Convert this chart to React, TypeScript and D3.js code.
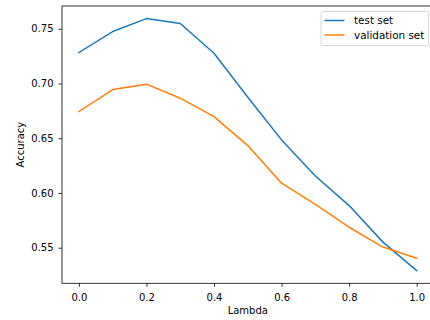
import { useEffect, useRef } from 'react';
import * as d3 from 'd3';

const lambdas = [0.0, 0.1, 0.2, 0.3, 0.4, 0.5, 0.6, 0.7, 0.8, 0.9, 1.0];
const testAcc = [0.7283, 0.7475, 0.7593, 0.7548, 0.7277, 0.6875, 0.6485, 0.6155, 0.5885, 0.5551, 0.529];
const validAcc = [0.6744, 0.6945, 0.6994, 0.6866, 0.6698, 0.6433, 0.6089, 0.5895, 0.5687, 0.5506, 0.5404];
const xTicks = [0.0, 0.2, 0.4, 0.6, 0.8, 1.0];
const yTicks = [0.55, 0.6, 0.65, 0.7, 0.75];
const seriesNames = ['test set', 'validation set'];
const seriesColors = ['#1f77b4', '#ff7f0e'];

const W = 430;
const H = 320;
const FONT = 'DejaVu Sans, sans-serif';

export default function App() {
  const svgRef = useRef<SVGSVGElement>(null);

  useEffect(() => {
    if (!svgRef.current) return;
    const svg = d3.select(svgRef.current);
    svg.selectAll('*').remove();

    const left = 62;
    const right = 433.6;
    const top = 6;
    const bottom = 283.3;

    // matplotlib-style 5% margins
    const allY = [...testAcc, ...validAcc];
    const yMin = d3.min(allY)!;
    const yMax = d3.max(allY)!;
    const yPad = (yMax - yMin) * 0.05;
    const x = d3.scaleLinear().domain([-0.05, 1.05]).range([left, right]);
    const y = d3.scaleLinear().domain([yMin - yPad, yMax + yPad]).range([bottom, top]);

    svg.append('rect').attr('width', W).attr('height', H).attr('fill', '#fff');

    // lines
    const line = d3
      .line<number>()
      .x((_, i) => x(lambdas[i]))
      .y((d) => y(d));

    [testAcc, validAcc].forEach((s, i) => {
      svg
        .append('path')
        .datum(s)
        .attr('d', line)
        .attr('fill', 'none')
        .attr('stroke', seriesColors[i])
        .attr('stroke-width', 1.5)
        .attr('stroke-linejoin', 'round')
        .attr('stroke-linecap', 'square');
    });

    // spines
    svg
      .append('rect')
      .attr('x', left)
      .attr('y', top)
      .attr('width', right - left)
      .attr('height', bottom - top)
      .attr('fill', 'none')
      .attr('stroke', '#000')
      .attr('stroke-width', 0.8);

    // x axis
    const xAxis = svg
      .append('g')
      .attr('transform', `translate(0,${bottom})`)
      .call(
        d3
          .axisBottom(x)
          .tickValues(xTicks)
          .tickSize(3.5)
          .tickPadding(7)
          .tickFormat(d3.format('.1f'))
      );
    xAxis.select('.domain').remove();
    xAxis.selectAll('line').attr('stroke', '#000').attr('stroke-width', 0.8);
    xAxis.selectAll('text').attr('font-size', 10).attr('font-family', FONT).attr('fill', '#000');

    // y axis
    const yAxis = svg
      .append('g')
      .attr('transform', `translate(${left},0)`)
      .call(
        d3
          .axisLeft(y)
          .tickValues(yTicks)
          .tickSize(3.5)
          .tickPadding(5)
          .tickFormat(d3.format('.2f'))
      );
    yAxis.select('.domain').remove();
    yAxis.selectAll('line').attr('stroke', '#000').attr('stroke-width', 0.8);
    yAxis.selectAll('text').attr('font-size', 10).attr('font-family', FONT).attr('fill', '#000');

    // axis labels
    svg
      .append('text')
      .attr('x', (left + right) / 2)
      .attr('y', 314)
      .attr('text-anchor', 'middle')
      .attr('font-size', 10)
      .attr('font-family', FONT)
      .text('Lambda');

    svg
      .append('text')
      .attr('transform', `translate(23.5, ${(top + bottom) / 2}) rotate(-90)`)
      .attr('text-anchor', 'middle')
      .attr('font-size', 10)
      .attr('font-family', FONT)
      .text('Accuracy');

    // legend
    const lg = svg.append('g');
    lg.append('rect')
      .attr('x', 321)
      .attr('y', 11.5)
      .attr('width', 107.5)
      .attr('height', 34)
      .attr('rx', 2)
      .attr('fill', '#fff')
      .attr('fill-opacity', 0.8)
      .attr('stroke', '#ccc')
      .attr('stroke-width', 0.8);
    seriesNames.forEach((name, i) => {
      const cy = 20.5 + i * 14.5;
      lg.append('line')
        .attr('x1', 324.5)
        .attr('x2', 344.5)
        .attr('y1', cy)
        .attr('y2', cy)
        .attr('stroke', seriesColors[i])
        .attr('stroke-width', 1.5);
      lg.append('text')
        .attr('x', 354)
        .attr('y', cy)
        .attr('dy', '0.35em')
        .attr('font-size', 10.4)
        .attr('font-family', FONT)
        .text(name);
    });
  }, []);

  return (
    <div style={{ position: 'fixed', left: 0, top: 0, width: W, height: H, overflow: 'hidden' }}>
      <svg ref={svgRef} width={W} height={H} />
    </div>
  );
}
